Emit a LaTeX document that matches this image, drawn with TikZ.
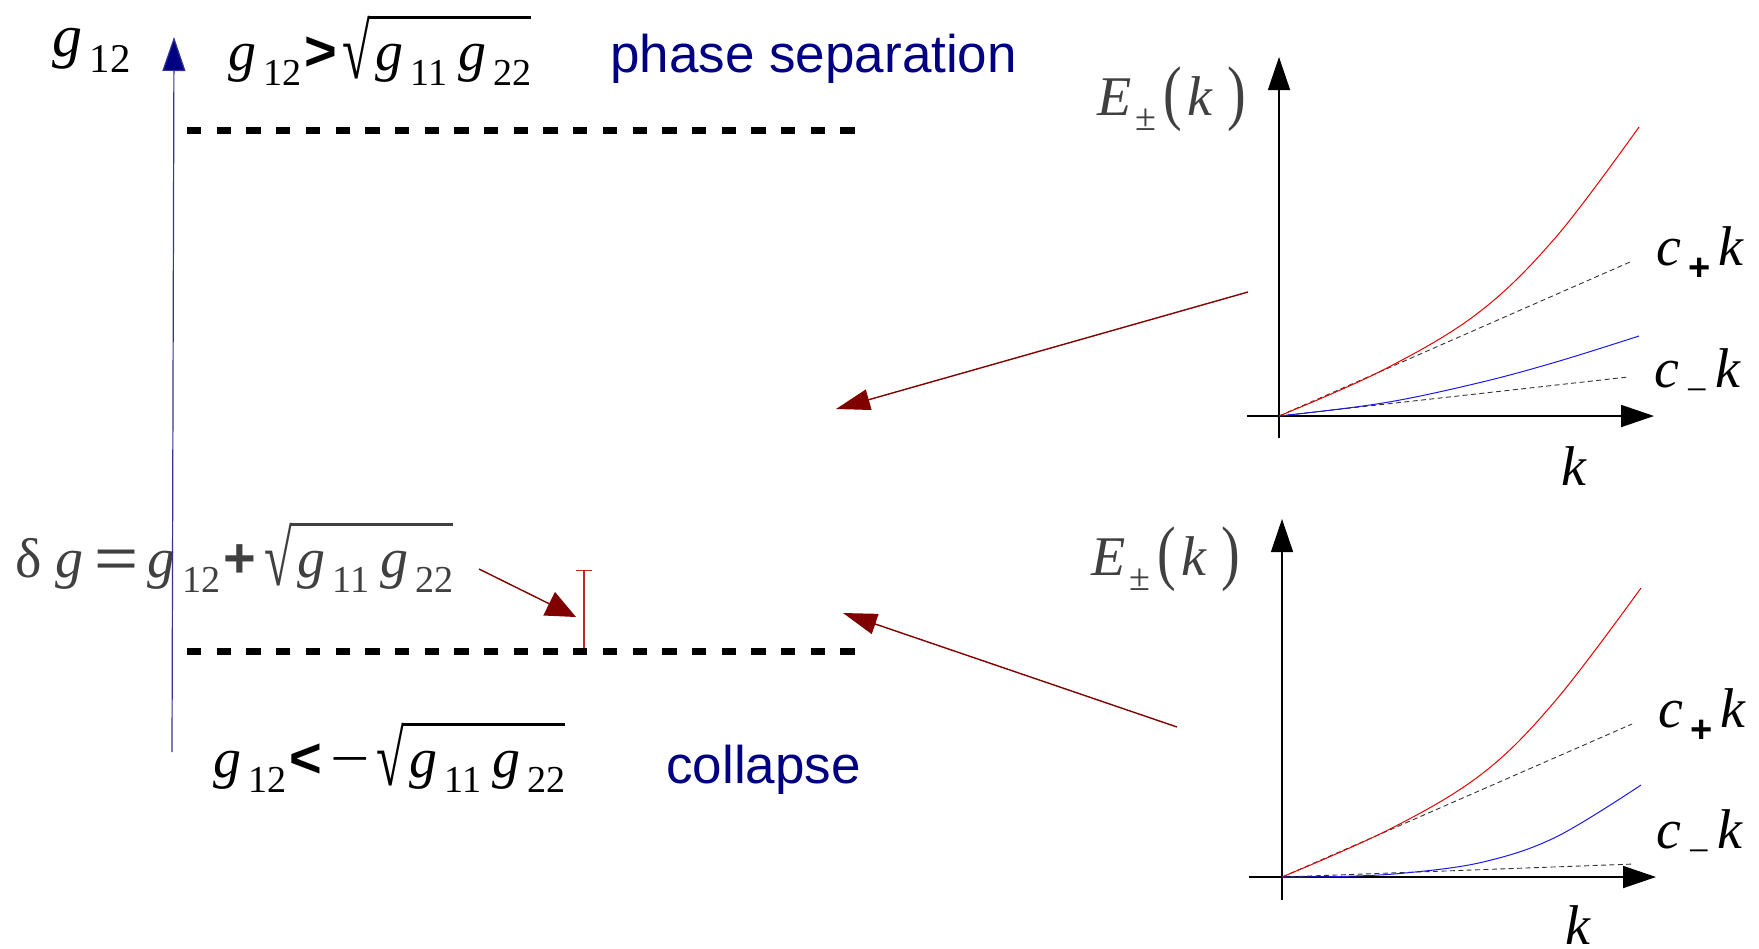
\documentclass[tikz,border=0pt]{standalone}
\usepackage{fontspec}
\setmainfont{Liberation Serif}
\newfontfamily\sansfont{Liberation Sans}
\usepackage{tikz}
\usetikzlibrary{arrows.meta, positioning}

\definecolor{navy}{RGB}{0,0,128}
\definecolor{maroon}{RGB}{128,0,0}
\definecolor{barred}{RGB}{190,40,40}
\definecolor{inkgray}{RGB}{64,64,64}
\definecolor{curvered}{RGB}{230,0,0}
\definecolor{curveblue}{RGB}{25,25,235}

\newcommand{\gv}{\textit{g}}
\newcommand{\lsub}[1]{\kern0.12em\raisebox{-0.28em}{\scalebox{0.68}{#1}}}
\newcommand{\rel}[1]{\kern0.06em{\sansfont\bfseries #1}}
\newcommand{\lroot}[1]{\setbox0=\hbox{#1}%
  \raisebox{-0.16em}{\resizebox*{0.5em}{1.12em}{√}}%
  \kern-0.03em\rlap{\rule[0.91em]{\dimexpr\wd0+0.12em\relax}{0.05em}}%
  \kern0.12em\box0}
\newcommand{\paren}[1]{\raisebox{-0.02em}{\scalebox{1}[1.28]{#1}}}

\begin{document}
\begin{tikzpicture}[x=0.5pt, y=-0.5pt,
  formula/.style={inner sep=0pt, anchor=base west, font=\fontsize{28}{32}\selectfont},
  regime/.style={inner sep=0pt, anchor=base west, text=navy, font=\sansfont\fontsize{26.5}{30}\selectfont},
  axislbl/.style={inner sep=0pt, anchor=base west, font=\fontsize{28}{30}\selectfont},
  phaseline/.style={line width=3.5pt, dash pattern=on 7.15pt off 7.7pt},
  gaxis/.style={navy!80, line width=0.6pt, -{Triangle[length=17pt, width=11.5pt, fill=navy]}},
  kaxis/.style={black, line width=0.7pt, -{Triangle[length=16.5pt, width=11pt]}},
  pointer/.style={maroon, line width=0.7pt, -{Triangle[length=17pt, width=10.5pt]}},
  slope/.style={black!80, line width=0.45pt, dash pattern=on 2.5pt off 1.7pt},
  branchp/.style={curvered, line width=0.5pt},
  branchm/.style={curveblue, line width=0.5pt}
]
\useasboundingbox (0,0) rectangle (1759,948);

\node[formula, font=\fontsize{30}{32}\selectfont] (glabel) at (52,56) {\gv\lsub{12}};
\node[formula] (tophi) at (228,70) {\gv\lsub{12}\rel{>}\kern0.1em\lroot{\gv\lsub{11}\kern0.2em\gv\lsub{22}}};
\node[regime] (phasesep) at (610,72) {phase separation};
\node[formula, text=inkgray] (deltag) at (15,577) {δ \gv\kern0.2em\scalebox{1.35}[1]{\sansfont =}\kern0.15em\gv\lsub{12}\rel{+}\kern0.15em\lroot{\gv\lsub{11}\kern0.2em\gv\lsub{22}}};
\node[formula] (botlo) at (213,777) {\gv\lsub{12}\rel{<}\kern0.15em\scalebox{1.25}[1]{−}\kern0.12em\lroot{\gv\lsub{11}\kern0.2em\gv\lsub{22}}};
\node[regime] (collapse) at (666,783) {collapse};

\coordinate (gbot) at (172,752);
\coordinate (gtop) at (174,37);
\draw[gaxis] (gbot) -- (gtop);

\coordinate (uleft) at (187,130);
\coordinate (uright) at (857,130);
\coordinate (lleft) at (187,651);
\coordinate (lright) at (857,651);
\draw[phaseline] (uleft) -- (uright);
\draw[phaseline] (lleft) -- (lright);

\coordinate (dgfrom) at (479,569);
\coordinate (dgto) at (576,617);
\draw[maroon, line width=0.7pt, -{Triangle[length=15pt, width=13pt]}] (dgfrom) -- (dgto);
\coordinate (barlow) at (584,648);
\coordinate (barhigh) at (584,570);
\draw[barred, line width=0.6pt, -{Bar[width=8pt]}] (barlow) -- (barhigh);

% upper spectrum
\coordinate (o1) at (1279,416);
\draw[kaxis] (1279,438) -- (1279,57);
\draw[kaxis, line width=0.9pt] (1247,416) -- (1654,416);
\draw[slope] (o1) -- (1630,262);
\draw[slope] (o1) -- (1628,377);
\draw[branchp] plot[smooth, tension=0.6] coordinates {(1279,416) (1383,370) (1478,313) (1556,237) (1639,127)};
\draw[branchm] plot[smooth, tension=0.6] coordinates {(1279,416) (1383,403) (1478,383) (1556,362) (1639,336)};
\node[axislbl, text=inkgray] (e1) at (1097,115) {\textit{E}\kern-0.05em\lsub{±}\kern0.12em\paren{(}\kern0.1em\textit{k}\kern0.25em\paren{)}};
\node[axislbl] (cp1) at (1656,265) {\textit{c}\lsub{\textbf{\sansfont +}}\kern0.15em\textit{k}};
\node[axislbl] (cm1) at (1654,387) {\textit{c}\lsub{−}\kern0.15em\textit{k}};
\node[axislbl] (k1) at (1561,485) {\textit{k}};

% lower spectrum
\coordinate (o2) at (1282,877);
\draw[kaxis] (1282,900) -- (1282,519);
\draw[kaxis, line width=0.9pt] (1249,877) -- (1656,877);
\draw[slope] (o2) -- (1632,724);
\draw[slope] (o2) -- (1634,864);
\draw[branchp] plot[smooth, tension=0.6] coordinates {(1282,877) (1392,828) (1483,773) (1556,700) (1641,588)};
\draw[branchm] plot[smooth, tension=0.6] coordinates {(1282,877) (1340,876.5) (1405,873) (1483,862) (1556,837) (1641,785)};
\node[axislbl, text=inkgray] (e2) at (1091,575) {\textit{E}\kern-0.05em\lsub{±}\kern0.12em\paren{(}\kern0.1em\textit{k}\kern0.25em\paren{)}};
\node[axislbl] (cp2) at (1658,727) {\textit{c}\lsub{\textbf{\sansfont +}}\kern0.15em\textit{k}};
\node[axislbl] (cm2) at (1656,848) {\textit{c}\lsub{−}\kern0.15em\textit{k}};
\node[axislbl] (k2) at (1565,944) {\textit{k}};

\coordinate (p1) at (1248,292);
\coordinate (t1) at (836,409);
\coordinate (p2) at (1177,727);
\coordinate (t2) at (843,613);
\draw[pointer] (p1) -- (t1);
\draw[pointer] (p2) -- (t2);

\end{tikzpicture}
\end{document}
